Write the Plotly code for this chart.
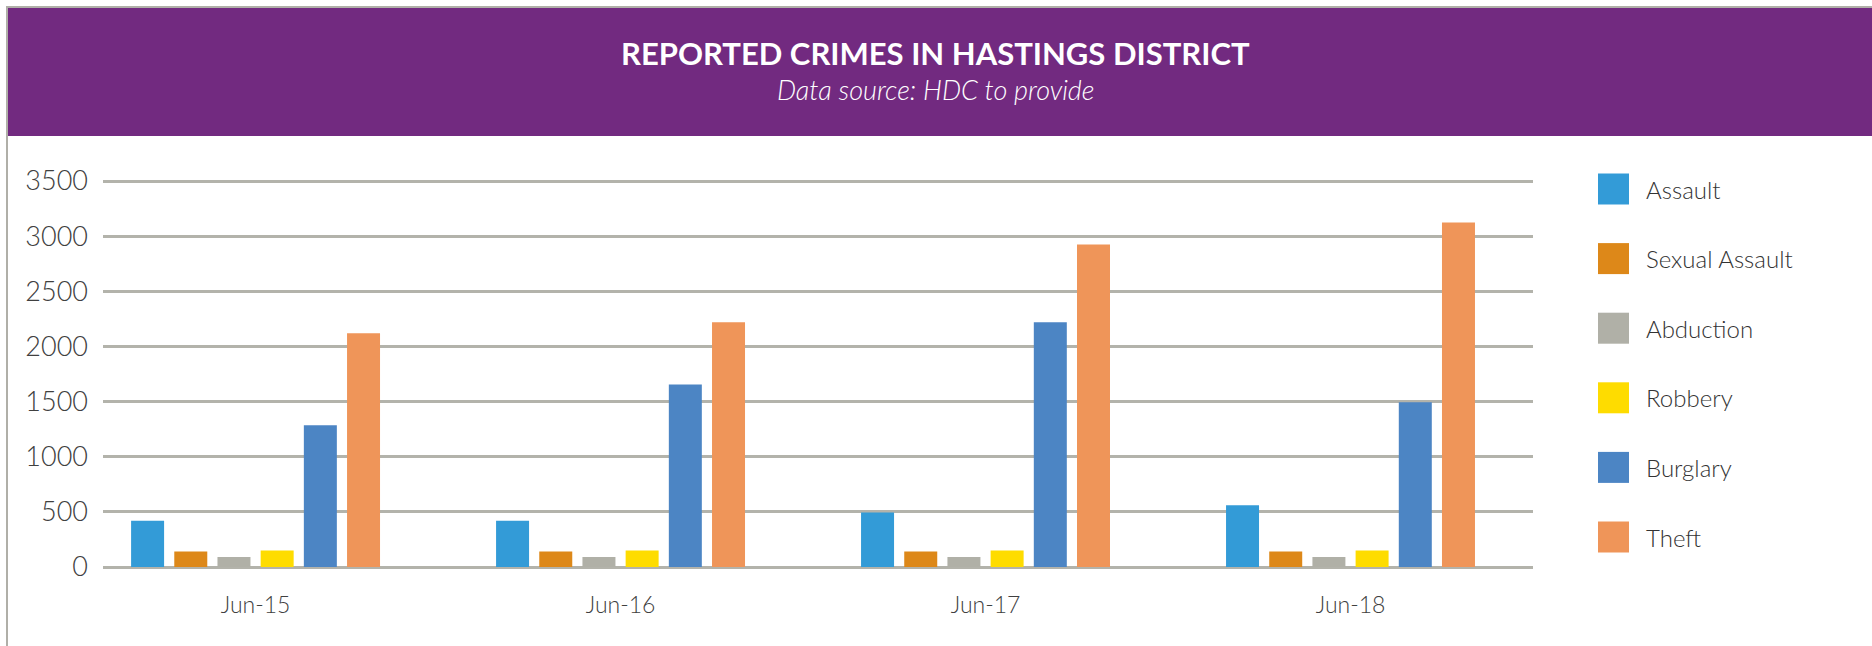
import plotly.graph_objects as go

# ---- data ----
periods = ["Jun-15", "Jun-16", "Jun-17", "Jun-18"]
series_names = ["Assault", "Sexual Assault", "Abduction", "Robbery", "Burglary", "Theft"]
assault = [420, 420, 495, 560]
sexual_assault = [140, 140, 140, 140]
abduction = [90, 90, 90, 90]
robbery = [150, 150, 150, 150]
burglary = [1285, 1655, 2220, 1495]
theft = [2120, 2220, 2925, 3125]
series_values = [assault, sexual_assault, abduction, robbery, burglary, theft]
series_colors = ["#339bd7", "#dd8819", "#b0b0a7", "#fedc00", "#4c85c4", "#ef9559"]
y_ticks = [0, 500, 1000, 1500, 2000, 2500, 3000, 3500]
title_text = "REPORTED CRIMES IN HASTINGS DISTRICT"
subtitle_text = "Data source: HDC to provide"

W, H = 1872, 646
L, R, T, B = 103, 1533, 170, 567   # plot area in pixels
pw, ph = R - L, B - T

def px(x):
    return (x - L) / pw

def py(y):
    return (B - y) / ph

FONT = "Lato"

fig = go.Figure()
for name, vals, col in zip(series_names, series_values, series_colors):
    fig.add_trace(go.Bar(name=name, x=periods, y=vals, marker=dict(color=col, line=dict(width=0)),
                         showlegend=False))

shapes = [
    # page border lines
    dict(type="rect", xref="paper", yref="paper", x0=px(6), x1=px(W + 5), y0=py(6), y1=py(8),
         fillcolor="#b0afa8", line=dict(width=0), layer="below"),
    dict(type="rect", xref="paper", yref="paper", x0=px(6), x1=px(8), y0=py(6), y1=py(H + 5),
         fillcolor="#b0afa8", line=dict(width=0), layer="below"),
    # purple header
    dict(type="rect", xref="paper", yref="paper", x0=px(8), x1=px(W + 5), y0=py(8), y1=py(136),
         fillcolor="#722a80", line=dict(width=0), layer="below"),
]

annotations = [
    dict(text="<b>" + title_text + "</b>", xref="paper", yref="paper", x=px(W / 2), y=py(53),
         xanchor="center", yanchor="middle", showarrow=False,
         font=dict(family=FONT, size=31, color="white")),
    dict(text="<i>" + subtitle_text + "</i>", xref="paper", yref="paper", x=px(W / 2), y=py(90),
         xanchor="center", yanchor="middle", showarrow=False,
         font=dict(family=FONT, size=27, color="white", weight=300)),
]

# custom legend with large swatches
for i, (name, col) in enumerate(zip(series_names, series_colors)):
    cy = 189 + i * 69.6
    shapes.append(dict(type="rect", xref="paper", yref="paper", x0=px(1598), x1=px(1629),
                       y0=py(cy - 15.5), y1=py(cy + 15.5), fillcolor=col, line=dict(width=0)))
    annotations.append(dict(text=name, xref="paper", yref="paper", x=px(1644), y=py(cy),
                            xanchor="left", yanchor="middle", showarrow=False,
                            font=dict(family=FONT, size=24, color="#333333", weight=300)))

fig.update_layout(
    width=W, height=H,
    margin=dict(l=L, r=W - R, t=T, b=H - B, pad=0),
    paper_bgcolor="white", plot_bgcolor="white",
    barmode="group", bargap=0.29, bargroupgap=0.236,
    shapes=shapes, annotations=annotations,
    showlegend=False,
    font=dict(family=FONT, color="#404040"),
)
fig.update_xaxes(
    type="category", range=[-0.418, 3.5], showgrid=False, showline=False, zeroline=False,
    ticks="", tickfont=dict(family=FONT, size=23, color="#404040", weight=300), ticklabelstandoff=22,
)
fig.update_yaxes(
    range=[0, 3600], tickvals=y_ticks, showgrid=True, gridcolor="#b3b3ab", gridwidth=2.5,
    zeroline=True, zerolinecolor="#b3b3ab", zerolinewidth=3, showline=False, ticks="",
    tickfont=dict(family=FONT, size=27, color="#404040", weight=300), ticklabelstandoff=14,
)

fig.write_html("out.html", config={"displayModeBar": False},
               post_script="document.body.style.margin='0';")
